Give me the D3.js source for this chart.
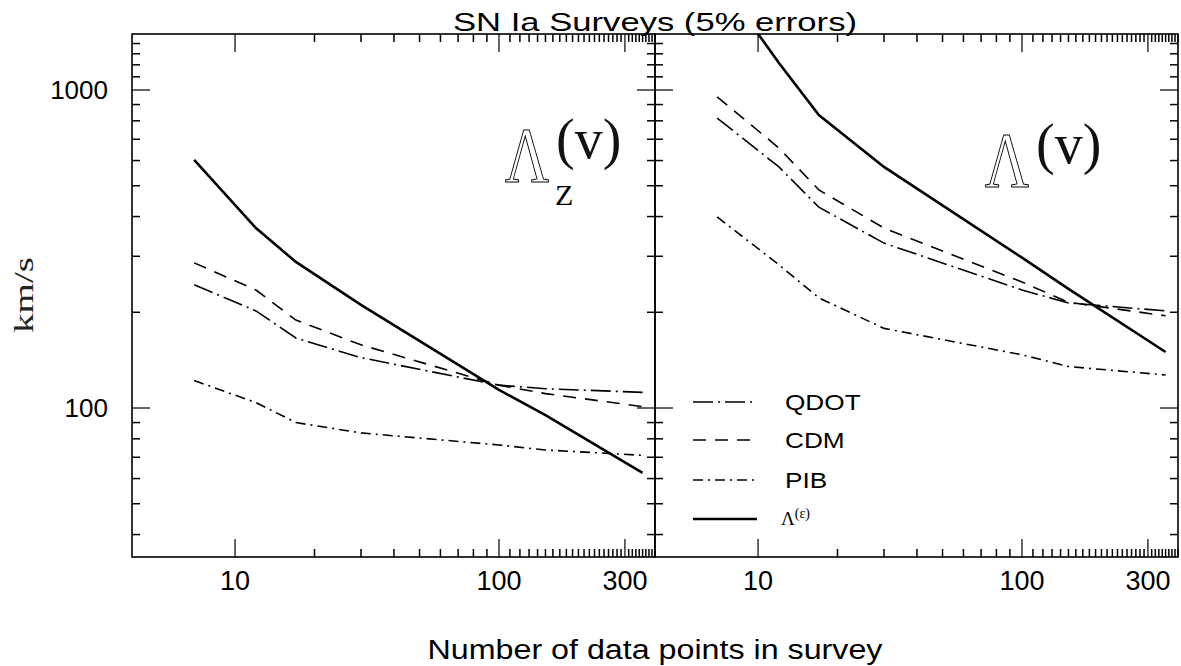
<!DOCTYPE html>
<html><head><meta charset="utf-8">
<script src="https://cdn.jsdelivr.net/npm/d3@7"></script>
<style>body{margin:0;background:#fff}svg{display:block}</style>
</head><body>
<svg id="chart" width="1181" height="666"></svg>
<script>
// ---- data ----
const surveySizes = [7, 12, 17, 30, 100, 150, 350];
// left panel (Lambda_Z^(v))
const leftQDOT   = [244, 202, 166, 144, 118, 115, 112];
const leftCDM    = [286, 235, 189, 158, 118, 111, 101];
const leftPIB    = [122, 104, 90, 83.5, 76.5, 73.8, 71];
const leftLamEps = [603, 368, 288, 211, 114, 95, 62.5];
// right panel (Lambda^(v))
const rightQDOT   = [816, 573, 428, 330, 235, 214, 202];
const rightCDM    = [951, 657, 485, 368, 249, 215, 195];
const rightPIB    = [399, 282, 222, 178, 147, 135, 127];
const rightLamEps = [2270, 1216, 834, 573, 297, 237, 150];
const xTickLabels = [10, 100, 300];
const yTickLabels = [100, 1000];
const seriesNames = ["QDOT", "CDM", "PIB", "Λ(ε)"];

const svg = d3.select("#chart");
const yTop = 34, yBot = 557;
const SANS = "Liberation Sans, Arial, sans-serif";
const SERIF = "Liberation Serif, serif";
const panels = [
  {x0: 132, x1: 655, series: [leftQDOT, leftCDM, leftPIB, leftLamEps]},
  {x0: 655, x1: 1178, series: [rightQDOT, rightCDM, rightPIB, rightLamEps]}
];
const styles = [
  {dash: "20,5,2,5", w: 1.6},
  {dash: "13,9", w: 1.6},
  {dash: "10,5,2,5", w: 1.6},
  {dash: null, w: 2.6}
];
const y = d3.scaleLog().domain([34, 1500]).range([yBot, yTop]);

const xMinor = d3.range(20, 400, 10).filter(v => v !== 100 && v !== 300);
const yMinor = d3.range(40, 100, 10).concat(d3.range(200, 1000, 100), d3.range(1100, 1500, 100));

function stretch(sel, f) {
  const n = sel.node();
  const w = n.getComputedTextLength();
  sel.attr("textLength", w * f).attr("lengthAdjust", "spacingAndGlyphs");
  return sel;
}

panels.forEach((p, pi) => {
  const x = d3.scaleLog().domain([4.07, 390]).range([p.x0, p.x1]);
  const g = svg.append("g");
  const clipId = "clip" + pi;
  svg.append("clipPath").attr("id", clipId).append("rect")
    .attr("x", p.x0).attr("y", yTop).attr("width", p.x1 - p.x0).attr("height", yBot - yTop);

  const tk = g.append("g").attr("stroke", "#000").attr("stroke-width", 1.5);
  xMinor.forEach(v => {
    const xx = x(v);
    tk.append("line").attr("x1", xx).attr("x2", xx).attr("y1", yBot).attr("y2", yBot - 8);
    tk.append("line").attr("x1", xx).attr("x2", xx).attr("y1", yTop).attr("y2", yTop + 8);
  });
  xTickLabels.forEach(v => {
    const xx = x(v);
    tk.append("line").attr("x1", xx).attr("x2", xx).attr("y1", yBot).attr("y2", yBot - 18).attr("stroke-width", 1.2);
    tk.append("line").attr("x1", xx).attr("x2", xx).attr("y1", yTop).attr("y2", yTop + 18).attr("stroke-width", 1.2);
  });
  yMinor.forEach(v => {
    const yy = y(v);
    tk.append("line").attr("x1", p.x0).attr("x2", p.x0 + 8).attr("y1", yy).attr("y2", yy);
    tk.append("line").attr("x1", p.x1).attr("x2", p.x1 - 8).attr("y1", yy).attr("y2", yy);
  });
  yTickLabels.forEach(v => {
    const yy = y(v);
    tk.append("line").attr("x1", p.x0).attr("x2", p.x0 + 18).attr("y1", yy).attr("y2", yy).attr("stroke-width", 1.2);
    tk.append("line").attr("x1", p.x1).attr("x2", p.x1 - 18).attr("y1", yy).attr("y2", yy).attr("stroke-width", 1.2);
  });

  xTickLabels.forEach(v => {
    g.append("text").attr("x", x(v)).attr("y", 590).attr("text-anchor", "middle")
      .attr("font-family", SANS).attr("font-size", 27).text(v);
  });

  const line = d3.line().x((d, i) => x(surveySizes[i])).y(d => y(d));
  p.series.forEach((s, si) => {
    g.append("path").datum(s).attr("d", line).attr("fill", "none")
      .attr("stroke", "#000").attr("stroke-width", styles[si].w)
      .attr("stroke-dasharray", styles[si].dash)
      .attr("clip-path", `url(#${clipId})`);
  });

  g.append("rect").attr("x", p.x0).attr("y", yTop).attr("width", p.x1 - p.x0).attr("height", yBot - yTop)
    .attr("fill", "none").attr("stroke", "#000").attr("stroke-width", 1.6);
});

yTickLabels.forEach(v => {
  svg.append("text").attr("x", 108).attr("y", y(v) + 9).attr("text-anchor", "end")
    .attr("font-family", SANS).attr("font-size", 26).text(v);
});

svg.append("text").attr("x", 655).attr("y", 31).attr("text-anchor", "middle")
  .attr("font-family", SANS).attr("font-size", 25)
  .attr("textLength", 404).attr("lengthAdjust", "spacingAndGlyphs")
  .text("SN Ia Surveys (5% errors)");
svg.append("text").attr("x", 655).attr("y", 659).attr("text-anchor", "middle")
  .attr("font-family", SANS).attr("font-size", 27)
  .attr("textLength", 455).attr("lengthAdjust", "spacingAndGlyphs")
  .text("Number of data points in survey");
svg.append("text").attr("transform", "translate(33,295) rotate(-90)").attr("text-anchor", "middle")
  .attr("font-family", SERIF).attr("font-size", 27).attr("fill", "#222")
  .attr("textLength", 76).attr("lengthAdjust", "spacingAndGlyphs").text("km/s");

function bigLambda(xL, baseL, xP, baseP, sub) {
  svg.append("text").attr("transform", `translate(${xL},${baseL}) scale(0.78,1)`)
    .attr("font-family", SERIF).attr("font-size", 78)
    .attr("fill", "none").attr("stroke", "#000").attr("stroke-width", 1.1).text("Λ");
  svg.append("text").attr("x", xP).attr("y", baseP)
    .attr("font-family", SERIF).attr("font-size", 56).attr("fill", "#111").text("(v)");
  if (sub) svg.append("text").attr("x", xL + 50).attr("y", 205)
    .attr("font-family", SERIF).attr("font-size", 30).text(sub);
}
bigLambda(505, 181, 556, 158, "Z");
bigLambda(985, 186, 1036, 163, null);

const legY = [402, 440, 480, 519];
seriesNames.forEach((n, i) => {
  svg.append("line").attr("x1", 693).attr("x2", 757).attr("y1", legY[i]).attr("y2", legY[i])
    .attr("stroke", "#000").attr("stroke-width", styles[i].w).attr("stroke-dasharray", styles[i].dash);
  if (i < 3) {
    const t = svg.append("text").attr("x", 785).attr("y", legY[i] + 8)
      .attr("font-family", SANS).attr("font-size", 22).text(n);
    stretch(t, 1.19);
  } else {
    const t = svg.append("text").attr("x", 781).attr("y", legY[i] + 6)
      .attr("font-family", SERIF).attr("font-size", 19);
    t.append("tspan").text("Λ");
    t.append("tspan").attr("dy", -7).attr("font-size", 14).text("(ε)");
  }
});
</script>
</body></html>
